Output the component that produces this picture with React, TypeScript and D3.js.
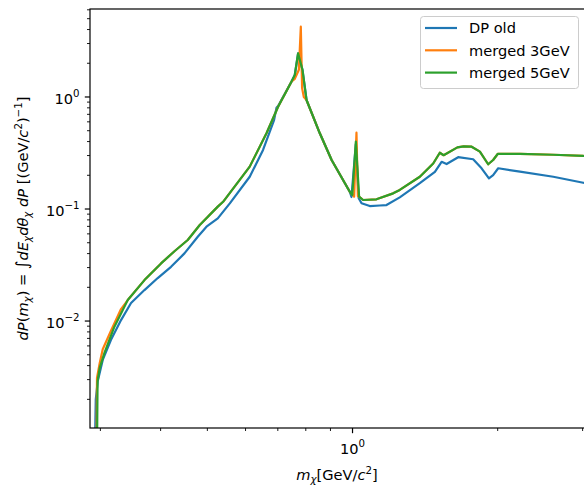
import React from "react";
import * as d3 from "d3";

// DP old
const dpOldX = [0.2924, 0.2935, 0.2962, 0.3034, 0.3156, 0.3311, 0.3473, 0.3703, 0.3945, 0.4204,
  0.4482, 0.4776, 0.4979, 0.5255, 0.5566, 0.6121, 0.6523, 0.6875, 0.6956, 0.7009,
  0.747, 0.7591, 0.7711, 0.7876, 0.8028, 0.8554, 0.905, 0.987, 0.995, 1.016,
  1.03, 1.044, 1.086, 1.139, 1.176, 1.253, 1.379, 1.482, 1.53, 1.567,
  1.656, 1.779, 1.852, 1.918, 1.957, 2.005, 2.224, 2.608, 3.009, 3.05];
const dpOldY = [0.0008, 0.002, 0.0029, 0.0045, 0.0068, 0.0102, 0.0145, 0.0189, 0.0242, 0.0305,
  0.0402, 0.0566, 0.0695, 0.0826, 0.1124, 0.194, 0.3365, 0.623, 0.8, 0.83,
  1.37, 1.57, 2.45, 1.74, 0.94, 0.474, 0.274, 0.1427, 0.128, 0.38,
  0.125, 0.1124, 0.1063, 0.1075, 0.1085, 0.127, 0.17, 0.215, 0.264, 0.252,
  0.29, 0.278, 0.231, 0.188, 0.201, 0.231, 0.2154, 0.194, 0.1717, 0.17];

// merged 3GeV
const merged3X = [0.2945, 0.2952, 0.299, 0.3034, 0.3156, 0.3311, 0.3419, 0.3703, 0.4008, 0.4273,
  0.4553, 0.4822, 0.5255, 0.539, 0.6121, 0.6631, 0.7009, 0.747, 0.7591, 0.774,
  0.7812, 0.786, 0.7925, 0.8028, 0.8554, 0.905, 0.987, 1.0077, 1.019, 1.026,
  1.032, 1.052, 1.121, 1.214, 1.253, 1.379, 1.47, 1.517, 1.545, 1.65,
  1.7, 1.766, 1.837, 1.911, 1.957, 2.0, 2.224, 2.608, 3.009, 3.05];
const merged3Y = [0.0008, 0.0031, 0.0042, 0.0056, 0.0082, 0.0128, 0.0154, 0.0232, 0.0327, 0.042,
  0.0529, 0.072, 0.105, 0.116, 0.239, 0.474, 0.819, 1.37, 1.45, 1.75,
  4.24, 1.2, 1.0, 0.94, 0.474, 0.274, 0.1427, 0.1288, 0.48, 0.13,
  0.1288, 0.1203, 0.122, 0.138, 0.148, 0.194, 0.255, 0.318, 0.302, 0.355,
  0.362, 0.36, 0.325, 0.251, 0.274, 0.31, 0.31, 0.305, 0.2975, 0.297];

// merged 5GeV
const merged5X = [0.2953, 0.296, 0.299, 0.3059, 0.3208, 0.3419, 0.3703, 0.4008, 0.4273, 0.4553,
  0.4822, 0.5255, 0.539, 0.6121, 0.6631, 0.7009, 0.747, 0.7591, 0.7711, 0.7876,
  0.8028, 0.8554, 0.905, 0.987, 0.999, 1.016, 1.032, 1.052, 1.121, 1.214,
  1.253, 1.379, 1.47, 1.517, 1.545, 1.65, 1.7, 1.766, 1.837, 1.911,
  1.957, 2.0, 2.224, 2.608, 3.009, 3.05];
const merged5Y = [0.0008, 0.0029, 0.0038, 0.0052, 0.0089, 0.0154, 0.0232, 0.0327, 0.042, 0.0529,
  0.072, 0.105, 0.116, 0.239, 0.474, 0.819, 1.37, 1.57, 2.45, 1.74,
  0.94, 0.474, 0.274, 0.1427, 0.1334, 0.399, 0.1288, 0.1203, 0.122, 0.138,
  0.148, 0.194, 0.255, 0.318, 0.302, 0.355, 0.362, 0.36, 0.325, 0.251,
  0.274, 0.31, 0.31, 0.305, 0.2975, 0.297];

const seriesNames = ["DP old", "merged 3GeV", "merged 5GeV"];
const seriesColors = ["#1f77b4", "#ff7f0e", "#2ca02c"];

const xMajorTicks = [1];
const xMajorLabels = ["0"];
const xMinorTicks = [0.3, 0.4, 0.5, 0.6, 0.7, 0.8, 0.9, 2, 3];
const yMajorTicks = [0.01, 0.1, 1];
const yMajorLabels = ["\u22122", "\u22121", "0"];
const yMinorMultipliers = [2, 3, 4, 5, 6, 7, 8, 9];
const yMinorDecades = [0.001, 0.01, 0.1, 1];

const W = 584;
const H = 485;
const left = 90;
const right = 584.6;
const top = 9;
const bottom = 428;
const font = "DejaVu Sans";
const fs = 14.6;

export default function App() {
  const x = d3.scaleLog().domain([0.2855, 3.02]).range([left, 584]);
  const y = d3.scaleLog().domain([1.11e-3, 6.1]).range([bottom, top]);

  const line = d3
    .line<[number, number]>()
    .x((d) => x(d[0]))
    .y((d) => y(d[1]));

  const series = [
    d3.zip(dpOldX, dpOldY) as [number, number][],
    d3.zip(merged3X, merged3Y) as [number, number][],
    d3.zip(merged5X, merged5Y) as [number, number][],
  ];

  const yMinor = yMinorDecades
    .flatMap((dec) => yMinorMultipliers.map((m) => dec * m))
    .filter((v) => v > 1.11e-3 && v < 6.1);

  return (
    <svg
      width={W}
      height={H}
      style={{ position: "absolute", left: 0, top: 0, background: "#fff" }}
      fontFamily={font}
    >
      <defs>
        <clipPath id="plot">
          <rect x={left} y={top} width={right - left} height={bottom - top} />
        </clipPath>
      </defs>

      <g clipPath="url(#plot)">
        {series.map((s, i) => (
          <path
            key={i}
            d={line(s) || ""}
            fill="none"
            stroke={seriesColors[i]}
            strokeWidth={2.2}
            strokeLinejoin="round"
            strokeLinecap="square"
          />
        ))}
      </g>

      {/* spines */}
      <rect
        x={left}
        y={top}
        width={right - left}
        height={bottom - top}
        fill="none"
        stroke="#000"
        strokeWidth={1.2}
      />

      {/* x ticks */}
      {xMajorTicks.map((t, i) => (
        <g key={"xm" + i}>
          <line x1={x(t)} x2={x(t)} y1={bottom} y2={bottom + 5.2} stroke="#000" strokeWidth={1.2} />
          <text x={x(t)} y={453.8} fontSize={fs} textAnchor="middle">
            10<tspan fontSize={fs * 0.7} dy={-6.5}>{xMajorLabels[i]}</tspan>
          </text>
        </g>
      ))}
      {xMinorTicks.map((t, i) => (
        <line key={"xn" + i} x1={x(t)} x2={x(t)} y1={bottom} y2={bottom + 3} stroke="#000" strokeWidth={0.9} />
      ))}

      {/* y ticks */}
      {yMajorTicks.map((t, i) => (
        <g key={"ym" + i}>
          <line x1={left - 5.2} x2={left} y1={y(t)} y2={y(t)} stroke="#000" strokeWidth={1.2} />
          <text x={79.6} y={y(t) + 6.8} fontSize={fs} textAnchor="end">
            10<tspan fontSize={fs * 0.7} dy={-6.5}>{yMajorLabels[i]}</tspan>
          </text>
        </g>
      ))}
      {yMinor.map((t, i) => (
        <line key={"yn" + i} x1={left - 3} x2={left} y1={y(t)} y2={y(t)} stroke="#000" strokeWidth={0.9} />
      ))}

      {/* x label */}
      <text x={337} y={480} fontSize={fs} textAnchor="middle">
        <tspan fontStyle="italic">m</tspan>
        <tspan fontStyle="italic" fontSize={fs * 0.7} dy={3}>χ</tspan>
        <tspan dy={-3}>[GeV/</tspan>
        <tspan fontStyle="italic">c</tspan>
        <tspan fontSize={fs * 0.7} dy={-6}>2</tspan>
        <tspan dy={6}>]</tspan>
      </text>

      {/* y label */}
      <text transform="translate(28,218.5) rotate(-90)" fontSize={fs} textAnchor="middle">
        <tspan fontStyle="italic">dP</tspan>
        <tspan>(</tspan>
        <tspan fontStyle="italic">m</tspan>
        <tspan fontStyle="italic" fontSize={fs * 0.7} dy={3}>χ</tspan>
        <tspan dy={-3}>) = </tspan>
        <tspan fontSize={fs * 1.15}>∫</tspan>
        <tspan fontStyle="italic">dE</tspan>
        <tspan fontStyle="italic" fontSize={fs * 0.7} dy={3}>χ</tspan>
        <tspan fontStyle="italic" dy={-3}>dθ</tspan>
        <tspan fontStyle="italic" fontSize={fs * 0.7} dy={3}>χ</tspan>
        <tspan fontStyle="italic" dy={-3}> dP</tspan>
        <tspan> [(GeV/</tspan>
        <tspan fontStyle="italic">c</tspan>
        <tspan fontSize={fs * 0.7} dy={-6}>2</tspan>
        <tspan dy={6}>)</tspan>
        <tspan fontSize={fs * 0.7} dy={-6}>−1</tspan>
        <tspan dy={6}>]</tspan>
      </text>

      {/* legend */}
      <rect x={420.5} y={16.5} width={158} height={72} rx={3} fill="#fff" fillOpacity={0.8} stroke="#ccc" strokeWidth={1} />
      {seriesNames.map((name, i) => {
        const cy = 28 + i * 22.3;
        return (
          <g key={name}>
            <line x1={425} x2={457} y1={cy} y2={cy} stroke={seriesColors[i]} strokeWidth={2.2} />
            <text x={469} y={cy + 5.3} fontSize={fs}>
              {name}
            </text>
          </g>
        );
      })}
    </svg>
  );
}
